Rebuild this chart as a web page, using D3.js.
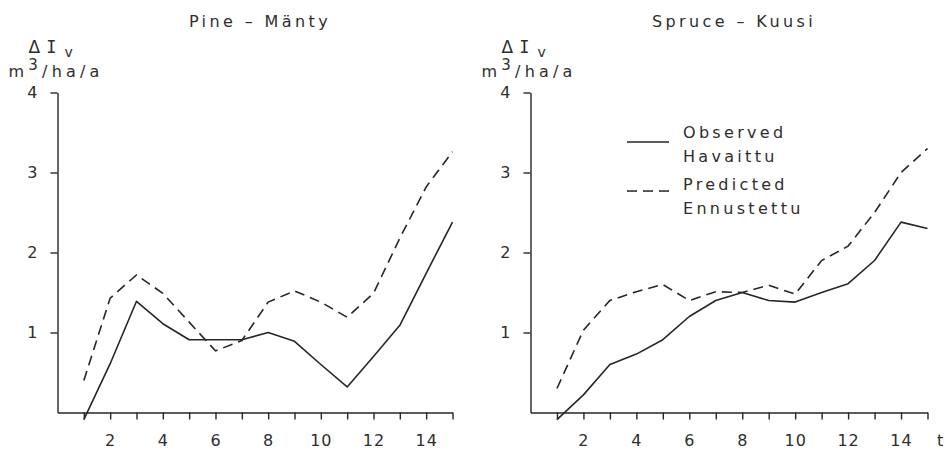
<!DOCTYPE html>
<html>
<head>
<meta charset="utf-8">
<script src="https://cdn.jsdelivr.net/npm/d3@7"></script>
<style>
  html, body { margin: 0; padding: 0; background: #fff; }
  svg { display: block; }
  text { font-family: "DejaVu Sans", sans-serif; fill: #2e2e2e; }
</style>
</head>
<body>
<svg id="chart" width="946" height="451"></svg>
<script>
// Years since treatment (t) and volume growth difference, m3/ha/a
const t = [1, 2, 3, 4, 5, 6, 7, 8, 9, 10, 11, 12, 13, 14, 15];
const pineObserved   = [-0.09, 0.61, 1.39, 1.11, 0.91, 0.91, 0.91, 1.00, 0.89, 0.60, 0.32, 0.70, 1.09, 1.74, 2.38];
const pinePredicted  = [0.40, 1.43, 1.72, 1.49, 1.13, 0.77, 0.90, 1.38, 1.52, 1.38, 1.19, 1.49, 2.18, 2.82, 3.26];
const spruceObserved = [-0.09, 0.22, 0.60, 0.73, 0.91, 1.20, 1.40, 1.50, 1.40, 1.38, 1.50, 1.61, 1.90, 2.38, 2.30];
const sprucePredicted = [0.30, 1.03, 1.40, 1.51, 1.60, 1.40, 1.51, 1.50, 1.59, 1.48, 1.90, 2.08, 2.50, 3.00, 3.30];
const yTicks = [1, 2, 3, 4];
const xTicks = t;
const panelTitles = ["Pine \u2013 M\u00e4nty", "Spruce \u2013 Kuusi"];
const legendLabels = [["Observed", "Havaittu"], ["Predicted", "Ennustettu"]];

const svg = d3.select("#chart");
const ink = "#262626";
const dash = "10,6";

const y = d3.scaleLinear().domain([0, 4]).range([412.5, 92.5]);

const panels = [
  { title: panelTitles[0], obs: pineObserved, pred: pinePredicted, x0: 57.5, x1: 452.5 },
  { title: panelTitles[1], obs: spruceObserved, pred: sprucePredicted, x0: 530.5, x1: 927.5 }
];

panels.forEach((p, i) => {
  const x = d3.scaleLinear().domain([0, 15]).range([p.x0, p.x1]);
  const g = svg.append("g");

  // y axis
  const ya = g.append("g")
    .attr("transform", `translate(${p.x0},0)`)
    .call(d3.axisLeft(y).tickValues(yTicks).tickSize(7).tickSizeOuter(0).tickPadding(12).tickFormat(d3.format("d")));
  // x axis
  const xa = g.append("g")
    .attr("transform", `translate(0,${y(0)})`)
    .call(d3.axisBottom(x).tickValues(xTicks).tickSize(7).tickSizeOuter(0).tickPadding(15)
      .tickFormat(d => d % 2 === 0 ? d : ""));

  [ya, xa].forEach(a => {
    a.select(".domain").attr("stroke", ink).attr("stroke-width", 1.4);
    a.selectAll(".tick line").attr("stroke", ink).attr("stroke-width", 1.4);
    a.selectAll(".tick text").attr("font-size", 16).attr("fill", "#2e2e2e")
      .style("font-family", '"DejaVu Sans", sans-serif').style("letter-spacing", "1px");
  });

  // title
  g.append("text")
    .attr("x", (p.x0 + p.x1) / 2 + 5)
    .attr("y", 27)
    .attr("text-anchor", "middle")
    .attr("font-size", 16)
    .style("letter-spacing", "3.4px")
    .text(p.title);

  // y axis label: ΔI_v over m³/ha/a
  const l1 = g.append("text")
    .attr("x", p.x0 - 29)
    .attr("y", 53)
    .attr("font-size", 17);
  l1.append("tspan").text("\u0394");
  l1.append("tspan").attr("dx", 6)
    .style("font-family", '"DejaVu Sans Mono", monospace').text("I");
  l1.append("tspan").attr("dx", 8).attr("dy", 4).attr("font-size", 14).text("v");

  const l2 = g.append("text")
    .attr("x", p.x0 - 49)
    .attr("y", 77)
    .attr("font-size", 16)
    .style("letter-spacing", "4.2px");
  l2.append("tspan").text("m");
  l2.append("tspan").attr("dy", -7).attr("font-size", 15).text("3");
  l2.append("tspan").attr("dy", 7).text("/ha/a");

  const line = d3.line().x((d, j) => x(t[j])).y(d => y(d));

  g.append("path")
    .datum(p.pred)
    .attr("d", line)
    .attr("fill", "none")
    .attr("stroke", ink)
    .attr("stroke-width", 1.6)
    .attr("stroke-dasharray", dash);

  g.append("path")
    .datum(p.obs)
    .attr("d", line)
    .attr("fill", "none")
    .attr("stroke", ink)
    .attr("stroke-width", 1.6)
    .attr("stroke-linejoin", "round");

  // x axis variable name, right panel only
  if (i === 1) {
    g.append("text")
      .attr("x", 937)
      .attr("y", 446)
      .attr("font-size", 16)
      .text("t");
  }
});

// legend in the spruce panel
const legend = svg.append("g");
const legendRows = [
  { y: 142, dashed: false, labels: legendLabels[0], ty: 138 },
  { y: 191, dashed: true, labels: legendLabels[1], ty: 190 }
];
legendRows.forEach(r => {
  legend.append("line")
    .attr("x1", 627).attr("x2", 669)
    .attr("y1", r.y).attr("y2", r.y)
    .attr("stroke", ink).attr("stroke-width", 1.6)
    .attr("stroke-dasharray", r.dashed ? "10,6" : null);
  r.labels.forEach((s, k) => {
    legend.append("text")
      .attr("x", 683)
      .attr("y", r.ty + k * 24)
      .attr("font-size", 16)
      .style("letter-spacing", "3.3px")
      .text(s);
  });
});
</script>
</body>
</html>
